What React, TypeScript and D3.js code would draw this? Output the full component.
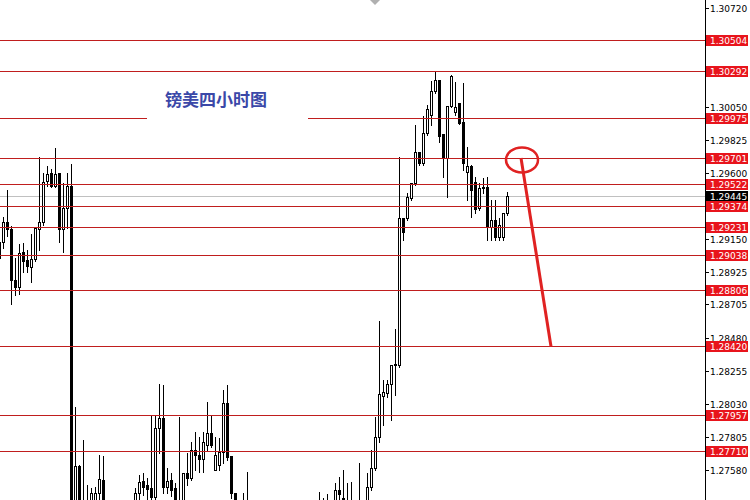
import React from "react";
import * as d3 from "d3";

// ---- data (GBP/USD H4) ----
const opens = [1.29021,1.29130,1.29266,1.29218,1.28871,1.28824,1.29062,1.29007,1.28960,1.29014,1.29218,1.29266,1.29544,1.29598,1.29510,1.29598,1.29218,1.29361,1.29510,1.27274,1.27607,1.27342,1.27274,1.27342,1.27376,1.27424,1.27512,1.27342,1.27250,1.27290,1.27240,1.27200,1.27300,1.27330,1.27342,1.27424,1.27505,1.27478,1.27458,1.27396,1.27865,1.27933,1.27464,1.27512,1.27458,1.27362,1.27321,1.27559,1.27525,1.27716,1.27682,1.27655,1.27750,1.27831,1.27580,1.27614,1.27702,1.28035,1.27675,1.27424,1.27342,1.27308,1.27342,1.27308,1.27220,1.27160,1.27230,1.27280,1.27210,1.27100,1.27150,1.27200,1.27180,1.27090,1.27170,1.27240,1.27200,1.27270,1.27300,1.27250,1.27290,1.27274,1.27308,1.27290,1.27342,1.27444,1.27390,1.27342,1.27308,1.27342,1.27308,1.27342,1.27321,1.27464,1.27593,1.27804,1.28083,1.28103,1.28164,1.28300,1.28294,1.29293,1.29293,1.29429,1.29531,1.29741,1.29667,1.29870,1.29993,1.30156,1.30231,1.29864,1.29700,1.30054,1.30013,1.30074,1.29945,1.29605,1.29646,1.29537,1.29361,1.29503,1.29503,1.29232,1.29279,1.29164,1.29164,1.29327];
const highs = [1.29170,1.29299,1.29483,1.29238,1.29021,1.29116,1.29123,1.29075,1.29184,1.29232,1.29707,1.29598,1.29646,1.29626,1.29768,1.29598,1.29531,1.29598,1.29660,1.28008,1.27614,1.27784,1.27478,1.27458,1.27464,1.27682,1.27675,1.27355,1.27330,1.27345,1.27300,1.27320,1.27350,1.27355,1.27458,1.27546,1.27559,1.27525,1.27954,1.27954,1.28164,1.28158,1.27593,1.27559,1.27491,1.27940,1.27559,1.27695,1.27770,1.27838,1.27804,1.27838,1.28042,1.27954,1.27804,1.27797,1.28124,1.28158,1.27675,1.27424,1.27362,1.27424,1.27566,1.27340,1.27300,1.27250,1.27330,1.27340,1.27260,1.27180,1.27240,1.27280,1.27230,1.27190,1.27260,1.27310,1.27290,1.27340,1.27350,1.27330,1.27430,1.27390,1.27417,1.27355,1.27491,1.27532,1.27580,1.27491,1.27498,1.27362,1.27627,1.27355,1.27559,1.27716,1.27940,1.28593,1.28192,1.28192,1.28294,1.28538,1.29707,1.29293,1.29463,1.29531,1.29925,1.29741,1.29986,1.30061,1.30224,1.30285,1.30231,1.29864,1.30054,1.30265,1.30217,1.30074,1.30210,1.29775,1.29653,1.29571,1.29531,1.29564,1.29571,1.29415,1.29415,1.29293,1.29327,1.29469];
const lows = [1.28994,1.29089,1.29170,1.28708,1.28769,1.28776,1.28926,1.28926,1.28858,1.29000,1.29075,1.29245,1.29510,1.29503,1.29503,1.29130,1.29062,1.29225,1.27240,1.27240,1.27172,1.27240,1.27240,1.27308,1.27321,1.27376,1.27308,1.27200,1.27180,1.27220,1.27150,1.27170,1.27230,1.27260,1.27308,1.27376,1.27410,1.27376,1.27376,1.27376,1.27695,1.27424,1.27424,1.27403,1.27308,1.27274,1.27308,1.27478,1.27512,1.27580,1.27566,1.27566,1.27716,1.27736,1.27580,1.27580,1.27627,1.27648,1.27390,1.27308,1.27274,1.27274,1.27240,1.27180,1.27120,1.27100,1.27190,1.27200,1.27080,1.27020,1.27110,1.27150,1.27050,1.27060,1.27130,1.27180,1.27160,1.27210,1.27230,1.27200,1.27220,1.27220,1.27240,1.27230,1.27308,1.27376,1.27308,1.27274,1.27274,1.27274,1.27274,1.27274,1.27308,1.27444,1.27580,1.27770,1.27886,1.28076,1.27920,1.28090,1.28280,1.29143,1.29279,1.29415,1.29517,1.29653,1.29653,1.29857,1.29925,1.30142,1.29809,1.29571,1.29435,1.30047,1.29993,1.29932,1.29619,1.29415,1.29299,1.29327,1.29347,1.29463,1.29143,1.29143,1.29143,1.29143,1.29143,1.29313];
const closes = [1.29130,1.29266,1.29218,1.28871,1.28824,1.29055,1.29000,1.28966,1.29014,1.29225,1.29266,1.29537,1.29592,1.29510,1.29592,1.29218,1.29361,1.29510,1.27274,1.27607,1.27308,1.27274,1.27342,1.27424,1.27424,1.27519,1.27342,1.27250,1.27290,1.27240,1.27200,1.27300,1.27330,1.27342,1.27424,1.27498,1.27464,1.27451,1.27396,1.27865,1.27933,1.27464,1.27505,1.27444,1.27362,1.27321,1.27559,1.27525,1.27716,1.27682,1.27655,1.27770,1.27831,1.27750,1.27682,1.27702,1.28035,1.27668,1.27424,1.27342,1.27308,1.27342,1.27308,1.27220,1.27160,1.27230,1.27280,1.27210,1.27100,1.27150,1.27200,1.27180,1.27090,1.27170,1.27240,1.27200,1.27270,1.27300,1.27250,1.27290,1.27274,1.27308,1.27290,1.27342,1.27444,1.27417,1.27342,1.27308,1.27342,1.27308,1.27342,1.27321,1.27464,1.27593,1.27804,1.28096,1.28110,1.28164,1.28294,1.28294,1.29293,1.29198,1.29435,1.29531,1.29741,1.29667,1.29870,1.30034,1.30156,1.30231,1.29850,1.29700,1.30054,1.30258,1.30047,1.29938,1.29667,1.29646,1.29483,1.29354,1.29497,1.29497,1.29232,1.29279,1.29164,1.29245,1.29327,1.29445];

const levels = [1.30504, 1.30292, 1.29975, 1.29701, 1.29522, 1.29374, 1.29231, 1.29038, 1.28806, 1.28420, 1.27957, 1.27710];
const axisTicks = ["1.30720","1.30495","1.30275","1.30050","1.29825","1.29600","1.29375","1.29150","1.28925","1.28705","1.28480","1.28255","1.28030","1.27805","1.27580"];
const bidPrice = 1.29445;
const title = "镑美四小时图";
const titleLevel = 1.29975;
// forecast arrow: from bar index / price to bar index / price
const arrowFrom = { i: 130.5, p: 1.29701 };
const arrowTo = { i: 138, p: 1.28420 };

const W = 750, H = 500;
const plotRight = 705;

export default function App() {
  const x = d3.scaleLinear().domain([0, 127]).range([-1, 507]);
  const y = d3.scaleLinear().domain([1.27580, 1.30720]).range([470, 8]);
  const red = "#c01e1e";
  const bright = "#e02222";
  const px = (v: number) => Math.round(v) + 0.5;

  const candles = opens.map((o, i) => {
    const c = closes[i];
    const cx = px(x(i));
    const yo = Math.round(y(o));
    const yc = Math.round(y(c));
    const yh = Math.round(y(highs[i]));
    const yl = Math.round(y(lows[i]));
    const bull = c >= o;
    const top = Math.min(yo, yc);
    const bot = Math.max(yo, yc);
    return (
      <g key={i}>
        <line x1={cx} x2={cx} y1={yh} y2={yl + 1} stroke="#000" strokeWidth={1} />
        {bull ? (
          <rect x={cx - 1} y={top + 0.5} width={2} height={Math.max(bot - top, 0)} fill="#fff" stroke="#000" strokeWidth={1} />
        ) : (
          <rect x={cx - 1.5} y={top} width={3} height={Math.max(bot - top, 1) + 1} fill="#000" />
        )}
      </g>
    );
  });

  const lineFont = "Tahoma, 'DejaVu Sans', 'Liberation Sans', sans-serif";

  return (
    <svg width={W} height={H} style={{ position: "fixed", left: 0, top: 0, background: "#fff" }}>
      <rect x={0} y={0} width={W} height={H} fill="#fff" />
      <defs>
        <clipPath id="plot">
          <rect x={0} y={0} width={plotRight} height={H} />
        </clipPath>
      </defs>
      <g clipPath="url(#plot)">
        {/* bid line */}
        <line x1={0} x2={plotRight} y1={px(y(bidPrice))} y2={px(y(bidPrice))} stroke="#c0c0c0" strokeWidth={1} />
        {candles}
        {/* horizontal levels */}
        {levels.map((l) => {
          const yy = px(y(l));
          if (l === titleLevel) {
            return (
              <g key={l}>
                <line x1={0} x2={147} y1={yy} y2={yy} stroke={red} strokeWidth={1.1} />
                <line x1={308} x2={plotRight} y1={yy} y2={yy} stroke={red} strokeWidth={1.1} />
              </g>
            );
          }
          return <line key={l} x1={0} x2={plotRight} y1={yy} y2={yy} stroke={red} strokeWidth={1.1} />;
        })}
        {/* title */}
        <text x={165} y={106} fontFamily="'Noto Sans CJK SC', sans-serif" fontWeight={700} fontSize={17} fill="#3b48a8">
          {title}
        </text>
        {/* forecast annotation */}
        <ellipse cx={x(arrowFrom.i) + 1} cy={y(arrowFrom.p) + 2} rx={16} ry={12.5} fill="none" stroke={bright} strokeWidth={2.5} />
        <line x1={x(arrowFrom.i)} y1={y(arrowFrom.p)} x2={x(arrowTo.i)} y2={y(arrowTo.p)} stroke={bright} strokeWidth={3} />
        {/* shift marker */}
        <path d="M370,0 L380,0 L375,5 Z" fill="#b0b0b0" />
      </g>
      {/* right border */}
      <line x1={plotRight + 0.5} x2={plotRight + 0.5} y1={0} y2={H} stroke="#000" strokeWidth={1} />
      {/* axis ticks */}
      {axisTicks.map((t) => {
        const yy = px(y(+t));
        return (
          <g key={t}>
            <line x1={plotRight} x2={plotRight + 4} y1={yy} y2={yy} stroke="#000" />
            <text x={710} y={yy + 3.5} fontFamily={lineFont} fontSize={9} fill="#000">{t}</text>
          </g>
        );
      })}
      {/* level labels */}
      {levels.map((l) => {
        const yy = Math.round(y(l));
        return (
          <g key={"lab" + l}>
            <rect x={706} y={yy - 5} width={42} height={11} fill="#e8141c" />
            <text x={710} y={yy + 4} fontFamily={lineFont} fontSize={9} fill="#fff">{l.toFixed(5)}</text>
          </g>
        );
      })}
      {/* bid label */}
      {(() => {
        const yy = Math.round(y(bidPrice));
        return (
          <g>
            <rect x={706} y={yy - 5} width={42} height={10} fill="#000" />
            <text x={710} y={yy + 3.5} fontFamily={lineFont} fontSize={9} fill="#fff">{bidPrice.toFixed(5)}</text>
          </g>
        );
      })()}
    </svg>
  );
}
